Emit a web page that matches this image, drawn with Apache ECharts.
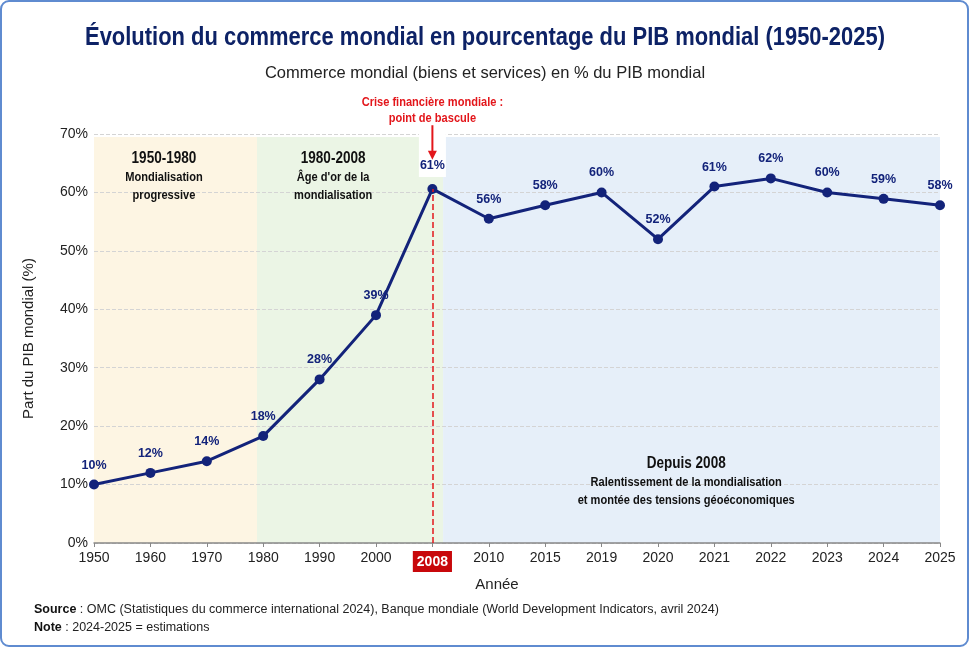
<!DOCTYPE html>
<html>
<head>
<meta charset="utf-8">
<script src="https://cdn.jsdelivr.net/npm/echarts@6/dist/echarts.min.js"></script>
<style>
  html, body { margin: 0; padding: 0; background: #fff; }
  #chart { width: 970px; height: 648px; }
</style>
</head>
<body>
<div id="chart"></div>
<script>
const years = ['1950', '1960', '1970', '1980', '1990', '2000', '2008', '2010', '2015',
  '2019', '2020', '2021', '2022', '2023', '2024', '2025'];
const tradeShare = [10, 12, 14, 18.3, 28, 39, 60.6, 55.5, 57.8, 60, 52, 61, 62.4, 60, 58.9, 57.8];

// periods, bounds given in category index units
const periodTitles = ['1950-1980', '1980-2008', 'Depuis 2008'];
const periodLines = [
  ['Mondialisation', 'progressive'],
  ["Âge d'or de la", 'mondialisation'],
  ['Ralentissement de la mondialisation', 'et montée des tensions géoéconomiques']
];
const periodFrom = [0, 2.89, 6.19];
const periodTo = [2.89, 6.19, 15];
const periodColors = ['#fdf5e3', '#ebf5e5', '#e6eff9'];
// where each period caption sits (index units, % units for its top)
const periodLabelX = [1.24, 4.24, 10.5];
const periodLabelTop = [67.6, 67.6, 15.4];

const crisisYear = '2008';
const crisisText = ['Crise financière mondiale :', 'point de bascule'];

const sans = "'Liberation Sans', Arial, sans-serif";
const navy = '#13237a';
const red = '#e3161b';
const narrowScale = 0.82;   // Arial squeezed to look like Arial Narrow

const chart = echarts.init(document.getElementById('chart'));

const areas = periodTitles.map((t, i) => [
  { xAxis: periodFrom[i], yAxis: 69.5, name: t, itemStyle: { color: periodColors[i] } },
  { xAxis: periodTo[i], yAxis: 0 }
]);

const seriesData = tradeShare.map((v, i) => years[i] === crisisYear
  ? { value: v, label: { backgroundColor: '#fff', padding: [30, 1, 5, 1], distance: 7 } }
  : v);

chart.setOption({
  animation: false,
  grid: { left: 94, right: 30, top: 134, bottom: 105 },
  xAxis: [
    {
      type: 'category',
      data: years,
      boundaryGap: false,
      z: 2,
      name: 'Année',
      nameLocation: 'middle',
      nameGap: 32,
      nameTextStyle: { fontFamily: sans, fontSize: 15, color: '#222', padding: [0, 40, 0, 0] },
      axisLine: { lineStyle: { color: '#888', width: 1.5 } },
      axisTick: { show: true, alignWithLabel: true, length: 4, lineStyle: { color: '#888' } },
      axisLabel: {
        margin: 8,
        interval: 0,
        fontFamily: sans,
        fontSize: 14,
        color: '#222',
        formatter: v => v === crisisYear ? '{r|' + v + '}' : v,
        rich: {
          r: { backgroundColor: '#c8080b', color: '#fff', fontWeight: 'bold', fontSize: 14,
            fontFamily: sans, padding: [4, 4, 3, 4] }
        }
      }
    },
    { type: 'value', min: 0, max: 15, show: false }
  ],
  yAxis: {
    type: 'value',
    min: 0,
    max: 70,
    interval: 10,
    z: 2,
    name: 'Part du PIB mondial (%)',
    nameLocation: 'middle',
    nameGap: 58,
    nameTextStyle: { fontFamily: sans, fontSize: 15, color: '#222' },
    axisLine: { show: false },
    axisTick: { show: false },
    axisLabel: { margin: 6, formatter: '{value}%', fontFamily: sans, fontSize: 14, color: '#222' },
    splitLine: { lineStyle: { type: 'dashed', color: '#d4d4d4' } }
  },
  series: [
    {
      type: 'line',
      xAxisIndex: 1,
      data: [],
      z: 1,
      silent: true,
      markArea: { silent: true, label: { show: false }, data: areas }
    },
    {
      type: 'line',
      data: seriesData,
      z: 3,
      clip: false,
      symbol: 'circle',
      symbolSize: 10,
      lineStyle: { color: navy, width: 3 },
      itemStyle: { color: navy },
      label: {
        show: true,
        position: 'top',
        distance: 8,
        fontFamily: sans,
        fontWeight: 'bold',
        fontSize: 12.5,
        color: navy,
        formatter: p => Math.round(p.value) + '%'
      },
      markLine: {
        silent: true,
        symbol: 'none',
        label: { show: false },
        lineStyle: { color: red, type: 'dashed', width: 1.5 },
        data: [[
          { coord: [crisisYear, 0] },
          { coord: [crisisYear, tradeShare[years.indexOf(crisisYear)]] }
        ]]
      }
    }
  ]
});

// fit a text to a given width by squeezing it horizontally
function fitScale(text, font, width) {
  const ctx = document.createElement('canvas').getContext('2d');
  ctx.font = font;
  return width / ctx.measureText(text).width;
}

const toPx = (x, y) => chart.convertToPixel({ xAxisIndex: 1, yAxisIndex: 0 }, [x, y]);
const crisisIdx = years.indexOf(crisisYear);
const arrowStart = toPx(crisisIdx, 71.5);
const arrowTip = toPx(crisisIdx, 65.6);

const titleText = 'Évolution du commerce mondial en pourcentage du PIB mondial (1950-2025)';
const titleScale = fitScale(titleText, 'bold 26px ' + sans, 800);

const graphics = [
  {
    type: 'rect',
    shape: { x: 1, y: 1, width: 967, height: 645, r: 8 },
    style: { fill: 'none', stroke: '#5f8bd0', lineWidth: 2 }
  },
  {
    type: 'text',
    x: 485, y: 38,
    scaleX: titleScale,
    style: { text: titleText, align: 'center', verticalAlign: 'middle',
      fontFamily: sans, fontWeight: 'bold', fontSize: 26, fill: '#0d2266' }
  },
  {
    type: 'text',
    x: 485, y: 73,
    style: { text: 'Commerce mondial (biens et services) en % du PIB mondial', align: 'center',
      verticalAlign: 'middle', fontFamily: sans, fontSize: 16.5, fill: '#222' }
  },
  {
    type: 'line',
    z: 100,
    shape: { x1: arrowStart[0], y1: arrowStart[1], x2: arrowTip[0], y2: arrowTip[1] - 8 },
    style: { stroke: red, lineWidth: 2 }
  },
  {
    type: 'polygon',
    z: 100,
    shape: { points: [[arrowTip[0] - 4.5, arrowTip[1] - 9], [arrowTip[0] + 4.5, arrowTip[1] - 9], [arrowTip[0], arrowTip[1]]] },
    style: { fill: red }
  },
  {
    type: 'text',
    z: 100,
    x: arrowStart[0], y: arrowStart[1] + 1,
    scaleX: narrowScale,
    style: { text: crisisText.join('\n'), align: 'center', verticalAlign: 'bottom',
      fontFamily: sans, fontWeight: 'bold', fontSize: 13.5, lineHeight: 16, fill: red }
  },
  {
    type: 'text',
    left: 34,
    top: 601,
    style: {
      text: '{b|Source} : OMC (Statistiques du commerce international 2024), Banque mondiale (World Development Indicators, avril 2024)\n{b|Note} : 2024-2025 = estimations',
      fontFamily: sans,
      fontSize: 12.5,
      lineHeight: 18,
      fill: '#222',
      rich: { b: { fontWeight: 'bold', fontFamily: sans, fontSize: 12.5, fill: '#111' } }
    }
  }
];

periodTitles.forEach((t, i) => {
  const p = toPx(periodLabelX[i], periodLabelTop[i]);
  graphics.push({
    type: 'text',
    z: 50,
    x: p[0], y: p[1],
    scaleX: narrowScale,
    style: {
      text: '{t|' + t + '}\n' + periodLines[i].map(s => '{s|' + s + '}').join('\n'),
      align: 'center',
      verticalAlign: 'top',
      rich: {
        t: { fontFamily: sans, fontWeight: 'bold', fontSize: 16.5, fill: '#111', lineHeight: 20, align: 'center' },
        s: { fontFamily: sans, fontWeight: 'bold', fontSize: 13.5, fill: '#111', lineHeight: 18, align: 'center' }
      }
    }
  });
});

chart.setOption({ graphic: graphics.map(g => Object.assign({ silent: true }, g)) });
</script>
</body>
</html>
